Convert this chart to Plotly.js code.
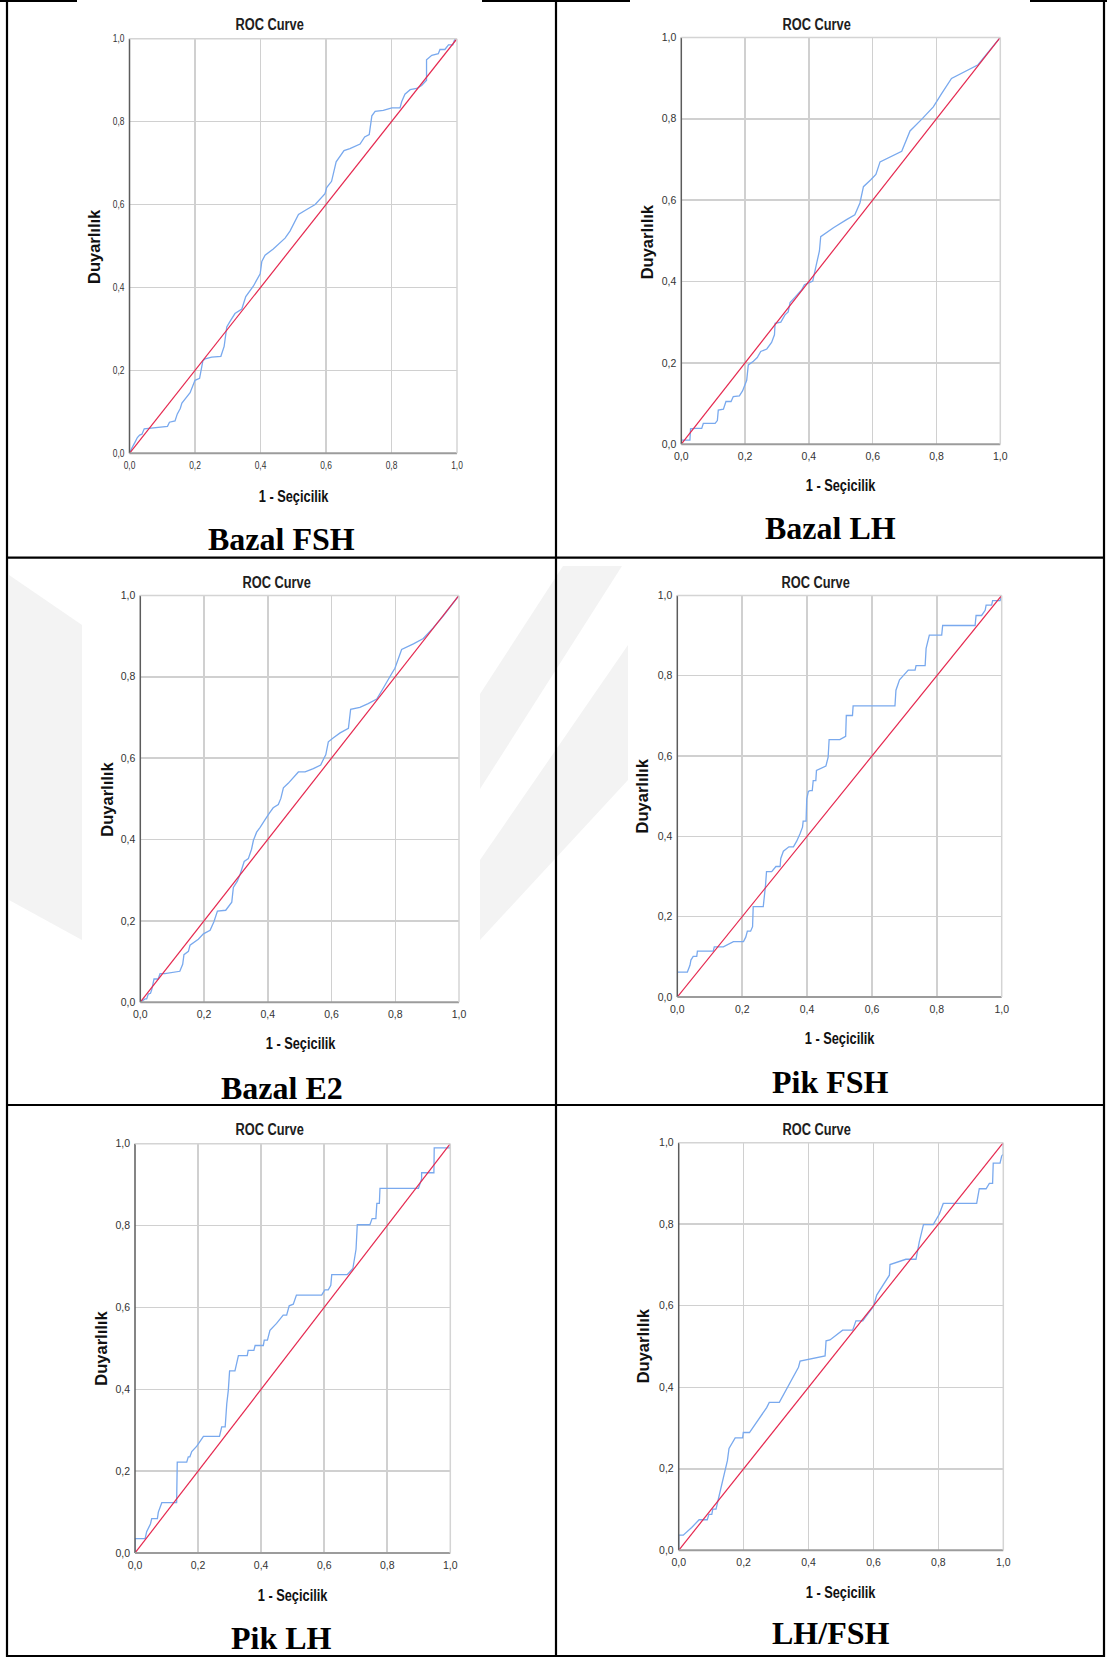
<!DOCTYPE html>
<html>
<head>
<meta charset="utf-8">
<script src="https://cdn.plot.ly/plotly-3.0.1.min.js"></script>
<style>
html,body{margin:0;padding:0;background:#ffffff;}
#chart{width:1107px;height:1657px;}
</style>
</head>
<body>
<div id="chart"></div>
<script>
// ---------- DATA ----------
const tickVals = [0, 0.2, 0.4, 0.6, 0.8, 1];
const tickText = ['0,0', '0,2', '0,4', '0,6', '0,8', '1,0'];
const panelNames = ['Bazal FSH', 'Bazal LH', 'Bazal E2', 'Pik FSH', 'Pik LH', 'LH/FSH'];
const chartTitle = 'ROC Curve';
const xTitle = '1 - Seçicilik';
const yTitle = 'Duyarlılık';
const diagX = [0, 1];
const diagY = [0, 1];

const bazalFSH_x = [0,.007,.017,.024,.031,.038,.045,.116,.122,.139,.146,.155,.16,.185,.2,.214,.224,.231,.251,.279,.289,.297,.307,.322,.343,.355,.378,.399,.404,.414,.439,.475,.490,.516,.541,.567,.597,.602,.617,.631,.655,.673,.704,.718,.732,.74,.75,.775,.801,.826,.831,.841,.857,.877,.892,.907,.907,.923,.943,.948,.963,.974,.987,.994,1];
const bazalFSH_y = [0,.012,.027,.038,.044,.046,.059,.065,.075,.078,.095,.108,.121,.146,.176,.181,.223,.228,.232,.234,.258,.305,.318,.337,.348,.378,.403,.433,.463,.478,.493,.519,.536,.576,.588,.600,.626,.641,.656,.703,.730,.735,.746,.763,.769,.814,.825,.827,.833,.833,.848,.866,.877,.880,.887,.9,.949,.96,.964,.974,.974,.985,.985,1,1];

const bazalLH_x = [0,0,.027,.029,.043,.064,.069,.106,.113,.116,.132,.14,.156,.163,.182,.192,.205,.21,.226,.238,.249,.268,.283,.292,.294,.312,.325,.335,.341,.356,.377,.386,.398,.412,.424,.433,.437,.477,.518,.544,.56,.571,.594,.61,.623,.691,.717,.754,.79,.816,.847,.929,1];
const bazalLH_y = [0,.01,.01,.038,.039,.039,.051,.051,.058,.084,.086,.105,.105,.117,.119,.131,.157,.195,.204,.213,.228,.234,.25,.269,.297,.3,.318,.325,.348,.361,.379,.392,.396,.401,.444,.475,.51,.532,.552,.564,.593,.633,.65,.663,.694,.72,.77,.799,.829,.862,.899,.932,1];

const bazalE2_x = [0,.015,.02,.025,.032,.036,.043,.056,.062,.077,.124,.133,.137,.151,.156,.182,.198,.219,.231,.242,.268,.287,.292,.304,.313,.326,.339,.349,.355,.365,.376,.391,.405,.417,.433,.441,.449,.464,.496,.517,.543,.566,.577,.582,.59,.606,.627,.653,.66,.689,.715,.742,.763,.789,.799,.82,.857,.888,.919,.951,1];
const bazalE2_y = [0,.008,.008,.02,.022,.031,.057,.057,.07,.07,.076,.093,.117,.125,.14,.155,.168,.177,.198,.224,.226,.246,.282,.297,.314,.346,.353,.376,.398,.418,.43,.448,.465,.478,.486,.501,.527,.538,.566,.566,.574,.583,.601,.608,.64,.65,.662,.673,.72,.725,.734,.745,.773,.808,.821,.867,.881,.894,.92,.95,1];

const pikFSH_x = [0,0,.031,.039,.042,.049,.06,.062,.111,.114,.142,.173,.204,.211,.216,.226,.232,.234,.265,.272,.275,.291,.304,.317,.319,.327,.344,.358,.368,.378,.386,.388,.397,.399,.404,.409,.416,.419,.427,.429,.458,.465,.468,.501,.519,.521,.54,.542,.671,.674,.685,.712,.733,.736,.764,.767,.777,.815,.818,.918,.921,.938,.949,.952,.969,.972,.995,1];
const pikFSH_y = [0,.062,.062,.079,.092,.101,.101,.114,.114,.125,.125,.138,.138,.149,.164,.164,.175,.225,.225,.279,.312,.312,.325,.325,.345,.363,.374,.374,.388,.406,.423,.438,.438,.493,.512,.514,.514,.539,.539,.564,.575,.597,.641,.641,.649,.701,.701,.725,.725,.764,.79,.814,.814,.825,.825,.868,.901,.901,.925,.925,.95,.95,.963,.976,.976,.987,.987,1];

const pikLH_x = [0,0,.032,.037,.049,.053,.071,.074,.085,.132,.134,.164,.169,.174,.18,.196,.217,.268,.275,.286,.291,.296,.3,.317,.328,.356,.359,.377,.381,.407,.41,.42,.428,.449,.47,.481,.489,.502,.512,.592,.602,.613,.621,.624,.673,.691,.701,.705,.745,.752,.764,.767,.775,.777,.899,.909,.909,.948,.949,1,1];
const pikLH_y = [0,.035,.035,.052,.071,.084,.084,.1,.123,.123,.222,.222,.235,.235,.248,.261,.285,.285,.308,.308,.364,.398,.445,.445,.482,.482,.495,.495,.507,.507,.52,.52,.544,.561,.581,.581,.604,.608,.63,.63,.643,.643,.654,.68,.68,.695,.742,.802,.802,.817,.817,.854,.854,.891,.891,.914,.929,.929,.99,.99,1];

const lhFsh_x = [0,0,.014,.04,.063,.088,.093,.102,.105,.115,.124,.15,.155,.174,.197,.199,.218,.271,.279,.31,.369,.374,.451,.454,.466,.505,.536,.546,.567,.577,.6,.61,.649,.651,.7,.731,.741,.754,.784,.803,.815,.918,.926,.947,.957,.967,.969,.99,.995,1,1];
const lhFsh_y = [0,.037,.037,.056,.075,.075,.088,.088,.101,.101,.132,.22,.25,.276,.276,.289,.289,.35,.363,.363,.449,.464,.477,.514,.516,.54,.54,.563,.563,.574,.598,.626,.675,.701,.714,.714,.756,.799,.799,.825,.851,.851,.887,.887,.9,.9,.95,.95,.967,.972,1];

const seriesX = [bazalFSH_x, bazalLH_x, bazalE2_x, pikFSH_x, pikLH_x, lhFsh_x];
const seriesY = [bazalFSH_y, bazalLH_y, bazalE2_y, pikFSH_y, pikLH_y, lhFsh_y];

// ---------- LAYOUT GEOMETRY (pixels) ----------
const W = 1107, H = 1657;
const px = p => p / W;
const py = p => 1 - p / H;

const panels = [
  {x0:129.5, x1:457,    y0:38.7,   y1:453.3,  title:[269,24.9],    xt:[293.3,496.5],  yt:[94,247],     lab:[281.5,539]},
  {x0:681.3, x1:1000.3, y0:37.4,   y1:444.2,  title:[816.7,24.9],  xt:[840,485.8],    yt:[647.3,242],   lab:[830.5,527.5]},
  {x0:140.3, x1:459,    y0:595.4,  y1:1002.2, title:[276.7,582.5], xt:[300,1043.8],   yt:[106.7,799],   lab:[281.7,1087.5]},
  {x0:677.3, x1:1001.7, y0:595.4,  y1:997,    title:[815.7,582.5], xt:[839.3,1038.6], yt:[641.7,795.7], lab:[830.7,1082]},
  {x0:135,   x1:450.3,  y0:1143.7, y1:1553,   title:[269.3,1129.6],xt:[292.7,1595.3], yt:[100.7,1348],  lab:[281.7,1638]},
  {x0:678.7, x1:1003.3, y0:1142.7, y1:1550.3, title:[816.7,1129.6],xt:[840.7,1592.5], yt:[643.3,1346],  lab:[830,1633]}
];

const SANS = '"Liberation Sans", Arial, sans-serif';
const SERIF = '"Liberation Serif", "Times New Roman", serif';

const data = [];
const layout = {
  width: W, height: H,
  margin: {l:0, r:0, t:0, b:0},
  paper_bgcolor: '#ffffff',
  plot_bgcolor: '#ffffff',
  showlegend: false,
  annotations: [],
  shapes: []
};

panels.forEach((p, i) => {
  const s = i === 0 ? '' : String(i + 1);
  const xa = 'x' + s, ya = 'y' + s;
  data.push({
    type: 'scatter', mode: 'lines', x: seriesX[i], y: seriesY[i],
    xaxis: xa, yaxis: ya, hoverinfo: 'skip',
    line: {color: '#79a9ee', width: 1.3, simplify: false}
  });
  data.push({
    type: 'scatter', mode: 'lines', x: diagX, y: diagY,
    xaxis: xa, yaxis: ya, hoverinfo: 'skip',
    line: {color: '#e5284f', width: 1.2}
  });
  const common = {
    range: [0, 1], fixedrange: true, tickmode: 'array',
    tickvals: tickVals, ticktext: tickText,
    showgrid: true, gridcolor: '#d0d0d0', gridwidth: 1.5,
    zeroline: false, showline: false, ticks: '',
    tickfont: {family: SANS, size: 10.5, color: '#333333'},
    automargin: false
  };
  layout['xaxis' + s] = Object.assign({}, common, {
    domain: [px(p.x0), px(p.x1)], anchor: ya, ticklabelstandoff: 4
  });
  layout['yaxis' + s] = Object.assign({}, common, {
    domain: [py(p.y1), py(p.y0)], anchor: xa, ticklabelstandoff: 4
  });
  layout.shapes.push({type:'line', xref: xa + ' domain', yref: ya + ' domain', x0:0, x1:0, y0:0, y1:1,
    line:{color:'#5c5c5c', width:1.5}});
  layout.shapes.push({type:'line', xref: xa + ' domain', yref: ya + ' domain', x0:0, x1:1, y0:0, y1:0,
    line:{color:'#9c9c9c', width:2}});
  layout.shapes.push({type:'line', xref: xa + ' domain', yref: ya + ' domain', x0:0, x1:1, y0:1, y1:1,
    line:{color:'#d4d4d4', width:1.5}});
  layout.shapes.push({type:'line', xref: xa + ' domain', yref: ya + ' domain', x0:1, x1:1, y0:0, y1:1,
    line:{color:'#d4d4d4', width:1.5}});
  layout.annotations.push({xref:'paper', yref:'paper', x:px(p.title[0]), y:py(p.title[1]),
    xanchor:'center', yanchor:'middle', showarrow:false, text: '<b>' + chartTitle + '</b>',
    font:{family: SANS, size: 16, color:'#202020'}});
  layout.annotations.push({xref:'paper', yref:'paper', x:px(p.xt[0]), y:py(p.xt[1]),
    xanchor:'center', yanchor:'middle', showarrow:false, text: '<b>' + xTitle + '</b>',
    font:{family: SANS, size: 16, color:'#111111'}});
  layout.annotations.push({xref:'paper', yref:'paper', x:px(p.yt[0]), y:py(p.yt[1]),
    xanchor:'center', yanchor:'middle', showarrow:false, textangle:-90, text: '<b>' + yTitle + '</b>',
    font:{family: SANS, size: 16.5, color:'#111111'}});
  layout.annotations.push({xref:'paper', yref:'paper', x:px(p.lab[0]), y:py(p.lab[1]),
    xanchor:'center', yanchor:'middle', showarrow:false, text: '<b>' + panelNames[i] + '</b>',
    font:{family: SERIF, size: 32, color:'#000000'}});
});

// ---------- faint background watermark (document underlay) ----------
function poly(pts){
  const d = 'M' + pts.map(q => px(q[0]).toFixed(5) + ',' + py(q[1]).toFixed(5)).join(' L') + ' Z';
  layout.shapes.push({type:'path', xref:'paper', yref:'paper', path:d, layer:'below',
    fillcolor:'#f3f3f3', line:{width:0}});
}
poly([[9,575],[82,625],[82,940],[9,900]]);
poly([[563,566],[622,566],[480,789],[480,694]]);
poly([[628,645],[628,780],[480,940],[480,860]]);

// ---------- TABLE BORDERS ----------
const black = {color:'#000000', width:2.2};
function hline(y, xa, xb){ layout.shapes.push({type:'line', xref:'paper', yref:'paper', x0:px(xa), x1:px(xb), y0:py(y), y1:py(y), line:black}); }
function vline(x, ya, yb){ layout.shapes.push({type:'line', xref:'paper', yref:'paper', x0:px(x), x1:px(x), y0:py(ya), y1:py(yb), line:black}); }
vline(7, 0, 1657);
vline(556, 0, 1657);
vline(1104, 0, 1657);
hline(557.7, 7, 1104);
hline(1105, 7, 1104);
hline(1656, 7, 1104);
hline(0.8, 0, 77);
hline(0.8, 482, 630);
hline(0.8, 1030, 1107);

Plotly.newPlot('chart', data, layout, {staticPlot: true, displayModeBar: false}).then(gd => {
  // the source charts were squeezed horizontally: narrow the horizontal texts
  const squeeze = (el, f) => {
    const w = el.getComputedTextLength();
    if (w > 0) {
      el.setAttribute('textLength', (w * f).toFixed(2));
      el.setAttribute('lengthAdjust', 'spacingAndGlyphs');
    }
  };
  gd.querySelectorAll('.xtick text, .ytick text').forEach(el => squeeze(el, 0.8));
  gd.querySelectorAll('g.annotation').forEach(g => {
    const idx = +g.getAttribute('data-index');
    if (idx % 4 < 2) {
      const t = g.querySelector('text.annotation-text') || g.querySelector('text');
      if (t) squeeze(t, 0.8);
    }
  });
});
</script>
</body>
</html>
